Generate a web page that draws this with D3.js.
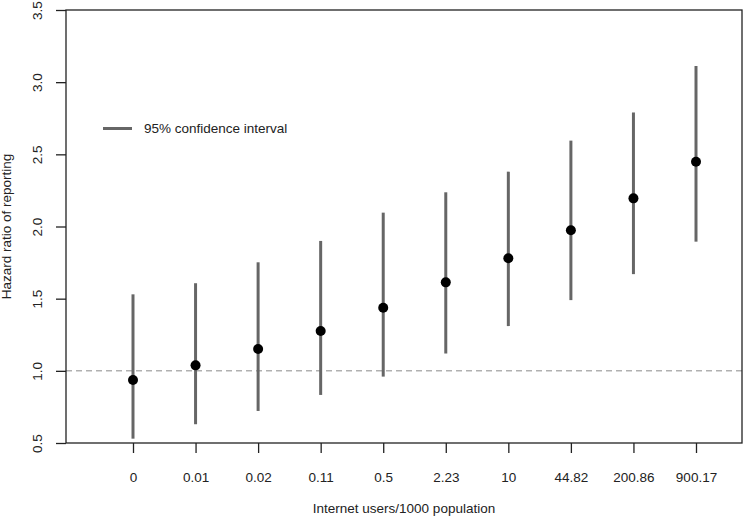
<!DOCTYPE html>
<html>
<head>
<meta charset="utf-8">
<script src="https://cdn.jsdelivr.net/npm/d3@7"></script>
<style>
  html, body { margin: 0; padding: 0; background: #fff; }
  svg { display: block; }
  text { font-family: "Liberation Sans", Arial, Helvetica, sans-serif; fill: #222; }
</style>
</head>
<body>
<svg id="chart" width="744" height="516"></svg>
<script>
const categories = ["0", "0.01", "0.02", "0.11", "0.5", "2.23", "10", "44.82", "200.86", "900.17"];
const hazardRatio = [0.937, 1.038, 1.151, 1.276, 1.437, 1.613, 1.78, 1.974, 2.195, 2.449];
const ciLower = [0.53, 0.63, 0.722, 0.833, 0.96, 1.12, 1.31, 1.49, 1.67, 1.895];
const ciUpper = [1.53, 1.607, 1.752, 1.90, 2.096, 2.237, 2.38, 2.595, 2.79, 3.112];
const yTicks = [0.5, 1.0, 1.5, 2.0, 2.5, 3.0, 3.5];
const referenceLine = 1.0;
const legendLabel = "95% confidence interval";
const xTitle = "Internet users/1000 population";
const yTitle = "Hazard ratio of reporting";

const svg = d3.select("#chart");
const frame = { left: 66, right: 742, top: 10, bottom: 443 };

const x = d3.scalePoint().domain(categories).range([133, 696]);
const y = d3.scaleLinear().domain([0.5, 3.5]).range([frame.bottom, frame.top]);

const data = categories.map((c, i) => ({ c, hr: hazardRatio[i], lo: ciLower[i], hi: ciUpper[i] }));

// reference dashed line
svg.append("line")
  .attr("x1", frame.left).attr("x2", frame.right)
  .attr("y1", y(referenceLine)).attr("y2", y(referenceLine))
  .attr("stroke", "#8a8a8a").attr("stroke-width", 1)
  .attr("stroke-dasharray", "6,4");

// CI lines
svg.append("g").selectAll("line").data(data).join("line")
  .attr("x1", d => x(d.c)).attr("x2", d => x(d.c))
  .attr("y1", d => y(d.lo)).attr("y2", d => y(d.hi))
  .attr("stroke", "#666").attr("stroke-width", 3);

// points
svg.append("g").selectAll("circle").data(data).join("circle")
  .attr("cx", d => x(d.c)).attr("cy", d => y(d.hr))
  .attr("r", 5).attr("fill", "#000");

// frame box
svg.append("rect")
  .attr("x", frame.left).attr("y", frame.top)
  .attr("width", frame.right - frame.left).attr("height", frame.bottom - frame.top)
  .attr("fill", "none").attr("stroke", "#222").attr("stroke-width", 1.3);

// y axis
const yAxis = svg.append("g")
  .attr("transform", `translate(${frame.left},0)`)
  .call(d3.axisLeft(y).tickValues(yTicks).tickFormat(d3.format(".1f")).tickSize(10).tickSizeOuter(0));
yAxis.select(".domain").remove();
yAxis.selectAll(".tick line").attr("stroke", "#222").attr("stroke-width", 1.3);
yAxis.selectAll(".tick text")
  .attr("x", 0).attr("dy", 0)
  .attr("transform", "translate(-24,0) rotate(-90)")
  .attr("text-anchor", "middle")
  .style("font-size", "13.5px")
  .style("font-family", "'Liberation Sans', Arial, sans-serif")
  .attr("fill", "#222");

// x axis
const xAxis = svg.append("g")
  .attr("transform", `translate(0,${frame.bottom})`)
  .call(d3.axisBottom(x).tickSize(10).tickSizeOuter(0));
xAxis.select(".domain").remove();
xAxis.selectAll(".tick line").attr("stroke", "#222").attr("stroke-width", 1.3);
xAxis.selectAll(".tick text")
  .attr("y", 39).attr("dy", 0)
  .style("font-size", "13.5px")
  .style("font-family", "'Liberation Sans', Arial, sans-serif")
  .attr("fill", "#222");

// axis titles
svg.append("text")
  .attr("x", (frame.left + frame.right) / 2 + 0).attr("y", 513)
  .attr("text-anchor", "middle")
  .style("font-size", "13.5px")
  .text(xTitle);

svg.append("text")
  .attr("transform", `translate(11,${(frame.top + frame.bottom) / 2}) rotate(-90)`)
  .attr("text-anchor", "middle")
  .style("font-size", "13.5px")
  .text(yTitle);

// legend
svg.append("line")
  .attr("x1", 103).attr("x2", 132).attr("y1", 128.5).attr("y2", 128.5)
  .attr("stroke", "#666").attr("stroke-width", 3);
svg.append("text")
  .attr("x", 144).attr("y", 133)
  .style("font-size", "13.5px")
  .text(legendLabel);
</script>
</body>
</html>
